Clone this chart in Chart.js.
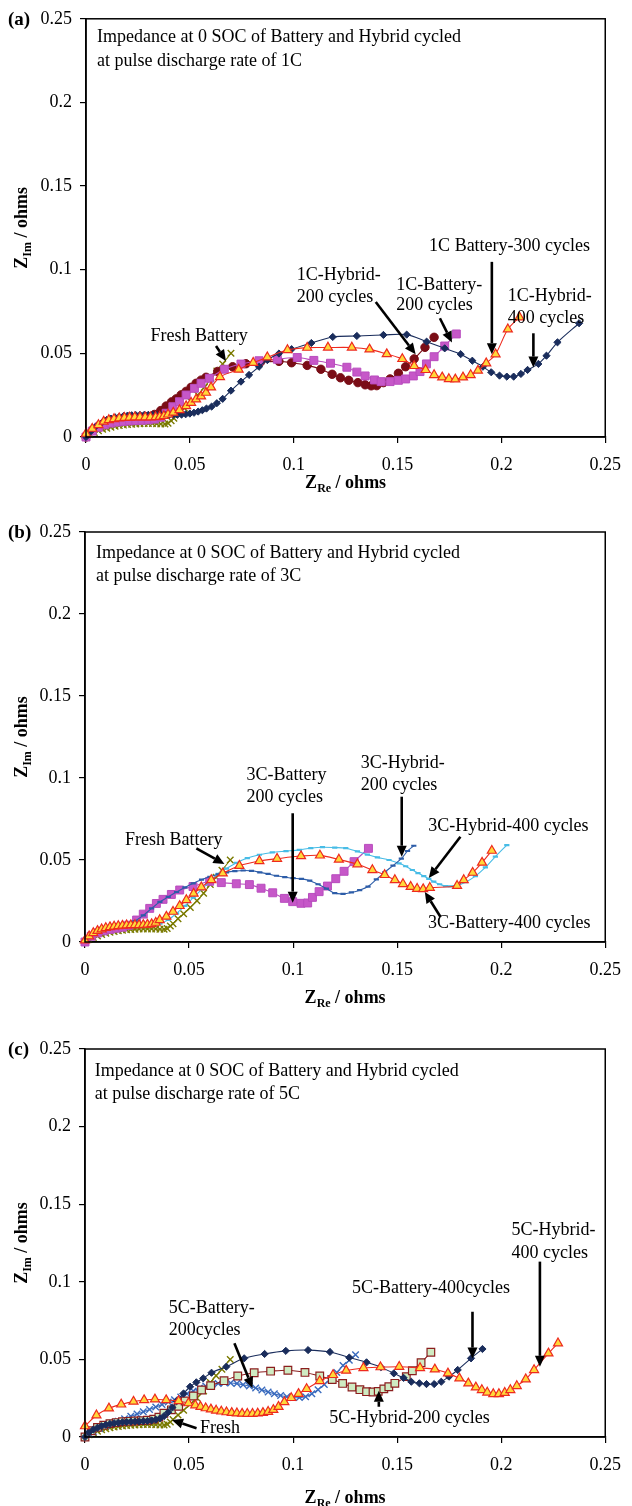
<!DOCTYPE html>
<html>
<head>
<meta charset="utf-8">
<script src="https://cdn.jsdelivr.net/npm/chart.js@4.4.1/dist/chart.umd.min.js"></script>
<style>
  html, body { margin: 0; padding: 0; background: #fff; }
  #page { position: relative; width: 632px; height: 1506px; overflow: hidden; }
  .panel { position: absolute; left: 0; width: 632px; }
  canvas { display: block; }
</style>
</head>
<body>
<div id="page">
  <div class="panel" style="top:0px;height:510px"><canvas id="chartA" width="632" height="510"></canvas></div>
  <div class="panel" style="top:510px;height:502px"><canvas id="chartB" width="632" height="502"></canvas></div>
  <div class="panel" style="top:1012px;height:494px"><canvas id="chartC" width="632" height="494"></canvas></div>
</div>
<script>
// ---------- axis ticks (shared by all three plots) ----------
const axisTicks = [0, 0.05, 0.1, 0.15, 0.2, 0.25];
const axisTickLabels = ['0', '0.05', '0.1', '0.15', '0.2', '0.25'];

// ---------- Nyquist data, [Z_Re, Z_Im] in ohms ----------
const freshBattery = [
  [0,0],[0.002,0.0015],[0.004,0.0027],[0.006,0.0037],[0.008,0.0046],[0.010,0.0053],[0.012,0.0059],
  [0.014,0.0064],[0.016,0.0068],[0.018,0.0071],[0.020,0.0074],[0.022,0.0076],[0.024,0.0078],[0.026,0.0079],
  [0.028,0.008],[0.030,0.008],[0.032,0.008],[0.034,0.0079],[0.036,0.0078],[0.038,0.0078],[0.0395,0.0082],
  [0.041,0.0097],[0.0423,0.0112],[0.0447,0.0142],[0.0474,0.0172],[0.0506,0.0211],[0.0538,0.0251],
  [0.057,0.0297],[0.0602,0.0351],[0.063,0.0395],[0.0658,0.0437],[0.0698,0.05]
];

// 1C pulse discharge
const hybrid200_1C = [
  [0,0],[0.003,0.004],[0.006,0.0066],[0.009,0.0083],[0.012,0.0094],[0.015,0.0101],[0.018,0.0106],
  [0.021,0.011],[0.024,0.0113],[0.027,0.0117],[0.030,0.0123],[0.033,0.0135],[0.036,0.0158],[0.0386,0.0185],
  [0.0412,0.021],[0.0434,0.0228],[0.0458,0.0252],[0.0482,0.0273],[0.0506,0.0297],[0.053,0.0321],
  [0.0554,0.034],[0.0578,0.0357],[0.0634,0.0392],[0.0706,0.042],[0.077,0.0438],[0.084,0.0448],
  [0.0929,0.0452],[0.099,0.0444],[0.1065,0.0428],[0.1131,0.0405],[0.1185,0.0375],[0.1225,0.0354],
  [0.1265,0.0339],[0.1309,0.0325],[0.1344,0.0312],[0.1373,0.0306],[0.14,0.0307],[0.1432,0.0325],
  [0.1464,0.0347],[0.1504,0.0381],[0.1539,0.042],[0.158,0.0467],[0.1632,0.0536],[0.1676,0.0596]
];
const battery200_1C = [
  [0,0],[0.003,0.0035],[0.006,0.0058],[0.009,0.0073],[0.012,0.0083],[0.015,0.0089],[0.018,0.0093],
  [0.021,0.0096],[0.024,0.0098],[0.027,0.01],[0.030,0.0102],[0.033,0.0107],[0.036,0.0118],[0.0386,0.0142],
  [0.0418,0.0181],[0.045,0.0211],[0.0482,0.0251],[0.0522,0.0291],[0.0554,0.0321],[0.0594,0.0351],
  [0.0666,0.0405],[0.0746,0.0436],[0.0833,0.0456],[0.0921,0.0465],[0.1017,0.0475],[0.1097,0.0458],
  [0.1177,0.0441],[0.1256,0.0417],[0.1304,0.0388],[0.1344,0.0365],[0.1389,0.0341],[0.1421,0.0331],
  [0.1464,0.0331],[0.1504,0.0339],[0.1539,0.0347],[0.1576,0.0365],[0.1608,0.0391],[0.1639,0.0437],
  [0.1676,0.048],[0.1727,0.0544],[0.1783,0.0616]
];
const battery300_1C = [
  [0,0.002],[0.003,0.005],[0.006,0.0072],[0.0085,0.0092],[0.011,0.0102],[0.0135,0.0108],[0.016,0.0112],
  [0.0185,0.0115],[0.021,0.0117],[0.0235,0.0118],[0.026,0.0118],[0.0285,0.0118],[0.031,0.0118],
  [0.0335,0.0119],[0.0355,0.0121],[0.0375,0.0126],[0.0395,0.0135],[0.042,0.0146],[0.045,0.0161],
  [0.0482,0.0185],[0.0506,0.0205],[0.053,0.0225],[0.0554,0.0243],[0.0578,0.0265],[0.0602,0.0297],
  [0.0645,0.0359],[0.0735,0.0403],[0.0805,0.0444],[0.0873,0.0477],[0.097,0.052],[0.1065,0.0534],
  [0.1165,0.0535],[0.128,0.0535],[0.1365,0.0524],[0.1448,0.0496],[0.1523,0.0467],[0.158,0.0425],
  [0.1635,0.0401],[0.1676,0.0371],[0.1715,0.0357],[0.1747,0.0347],[0.1778,0.0345],[0.1815,0.0357],
  [0.1852,0.0371],[0.1887,0.0397],[0.1927,0.0441],[0.1972,0.0495],[0.2031,0.0644],[0.2087,0.0716]
];
const hybrid400_1C = [
  [0,0],[0.002,0.003],[0.004,0.0055],[0.006,0.0075],[0.008,0.009],[0.010,0.0102],[0.012,0.011],
  [0.014,0.0117],[0.016,0.0121],[0.018,0.0125],[0.020,0.0128],[0.022,0.013],[0.024,0.0131],[0.026,0.0132],
  [0.028,0.0132],[0.030,0.0132],[0.032,0.0132],[0.034,0.0132],[0.036,0.0132],[0.038,0.0132],[0.040,0.0132],
  [0.042,0.0132],[0.044,0.0133],[0.046,0.0134],[0.048,0.0136],[0.050,0.014],[0.052,0.0145],[0.054,0.0152],
  [0.056,0.016],[0.058,0.017],[0.0605,0.0182],[0.063,0.0202],[0.0658,0.0228],[0.0698,0.0277],
  [0.0746,0.0331],[0.0785,0.0371],[0.0833,0.042],[0.0873,0.046],[0.0929,0.0499],[0.099,0.0525],
  [0.1085,0.0562],[0.1188,0.0598],[0.1304,0.0604],[0.1432,0.061],[0.1544,0.0612],[0.164,0.057],
  [0.1727,0.053],[0.1804,0.0495],[0.186,0.0456],[0.1911,0.042],[0.1951,0.0387],[0.1991,0.0367],
  [0.2026,0.0361],[0.2059,0.0361],[0.2094,0.0377],[0.2126,0.0401],[0.2178,0.0437],[0.2217,0.0486],
  [0.227,0.0566],[0.2374,0.068]
];

// 3C pulse discharge
const battery200_3C = [
  [0,0],[0.003,0.0035],[0.006,0.0055],[0.009,0.0068],[0.012,0.0077],[0.015,0.0084],[0.018,0.009],
  [0.021,0.0102],[0.0248,0.0134],[0.028,0.017],[0.0311,0.0205],[0.0343,0.0235],[0.0375,0.026],
  [0.0415,0.029],[0.0455,0.0317],[0.0519,0.0338],[0.0599,0.037],[0.0655,0.0362],[0.0727,0.0355],
  [0.079,0.035],[0.0846,0.0328],[0.0902,0.03],[0.0958,0.0266],[0.0998,0.0246],[0.1038,0.0236],
  [0.107,0.0238],[0.1093,0.0272],[0.1125,0.0307],[0.1165,0.0341],[0.1205,0.0386],[0.1245,0.0431],
  [0.1293,0.049],[0.1362,0.0571]
];
const hybrid200_3C = [
  [0,0],[0.004,0.0045],[0.008,0.0068],[0.012,0.0085],[0.016,0.0097],[0.020,0.0108],[0.024,0.0128],
  [0.028,0.0162],[0.032,0.0205],[0.036,0.0245],[0.040,0.0275],[0.044,0.0305],[0.048,0.0333],
  [0.052,0.0358],[0.056,0.038],[0.060,0.0398],[0.064,0.0413],[0.068,0.0425],[0.072,0.0432],
  [0.076,0.0436],[0.080,0.0434],[0.084,0.0425],[0.088,0.0415],[0.092,0.0404],[0.096,0.0396],
  [0.100,0.0389],[0.104,0.0385],[0.108,0.0374],[0.112,0.0352],[0.116,0.0326],[0.120,0.0298],
  [0.124,0.0294],[0.128,0.0302],[0.132,0.0316],[0.136,0.0338],[0.140,0.0382],[0.144,0.0425],
  [0.148,0.0466],[0.152,0.0508],[0.155,0.0555],[0.158,0.0587]
];
const battery400_3C = [
  [0,0.001],[0.002,0.0035],[0.004,0.0055],[0.006,0.0068],[0.008,0.0078],[0.010,0.0086],[0.012,0.0091],
  [0.014,0.0095],[0.016,0.0098],[0.018,0.01],[0.020,0.0102],[0.022,0.0103],[0.024,0.0104],[0.026,0.0104],
  [0.028,0.0105],[0.030,0.0106],[0.032,0.0109],[0.034,0.0118],[0.0359,0.0134],[0.0391,0.0155],
  [0.0423,0.0185],[0.0455,0.022],[0.0487,0.0256],[0.0522,0.0295],[0.0559,0.0334],[0.0607,0.0378],
  [0.0662,0.0419],[0.0742,0.0465],[0.0838,0.0494],[0.0923,0.0508],[0.1038,0.0524],[0.1129,0.0528],
  [0.122,0.0503],[0.1309,0.0474],[0.1381,0.0439],[0.144,0.0409],[0.1489,0.0378],[0.1528,0.0354],
  [0.1565,0.0337],[0.1596,0.0325],[0.1625,0.0323],[0.1657,0.0331],[0.1788,0.0343],[0.182,0.0378],
  [0.1863,0.0423],[0.1908,0.0484],[0.1955,0.0557]
];
const hybrid400_3C = [
  [0,0],[0.004,0.0045],[0.008,0.0068],[0.012,0.0082],[0.016,0.009],[0.020,0.0095],[0.024,0.0097],
  [0.028,0.0098],[0.032,0.0101],[0.036,0.0112],[0.040,0.0135],[0.044,0.0175],[0.048,0.022],[0.052,0.027],
  [0.056,0.032],[0.060,0.037],[0.064,0.0415],[0.068,0.0448],[0.0727,0.0482],[0.078,0.0512],
  [0.0838,0.0532],[0.09,0.0546],[0.0966,0.0554],[0.103,0.0562],[0.1085,0.0572],[0.1141,0.0578],
  [0.12,0.0576],[0.1253,0.0572],[0.1309,0.0552],[0.1357,0.0533],[0.1405,0.0516],[0.1461,0.05],
  [0.1509,0.048],[0.1541,0.0462],[0.1573,0.0439],[0.16,0.042],[0.1628,0.0402],[0.1652,0.0385],
  [0.1676,0.0368],[0.1704,0.0352],[0.1732,0.0341],[0.1756,0.0339],[0.178,0.0341],[0.1828,0.0365],
  [0.1876,0.0402],[0.1924,0.0455],[0.1972,0.052],[0.2027,0.0591]
];

// 5C pulse discharge
const battery200_5C = [
  [0,0],[0.002,0.002],[0.004,0.0035],[0.007,0.0055],[0.010,0.0072],[0.013,0.0088],[0.016,0.0102],
  [0.019,0.0117],[0.022,0.0133],[0.025,0.0148],[0.028,0.0162],[0.031,0.0177],[0.034,0.0193],[0.037,0.021],
  [0.040,0.0225],[0.043,0.024],[0.046,0.0258],[0.049,0.0278],[0.052,0.0297],[0.055,0.0315],[0.058,0.0328],
  [0.061,0.0338],[0.064,0.0345],[0.067,0.0349],[0.070,0.0348],[0.073,0.0344],[0.076,0.0337],[0.079,0.0328],
  [0.082,0.0316],[0.085,0.0303],[0.088,0.029],[0.091,0.0278],[0.094,0.0268],[0.097,0.0259],[0.100,0.0254],
  [0.103,0.0254],[0.106,0.026],[0.109,0.0278],[0.112,0.0305],[0.115,0.0338],[0.118,0.0375],[0.121,0.0415],
  [0.124,0.046],[0.127,0.0495],[0.130,0.053]
];
const hybrid200_5C = [
  [0,0],[0.003,0.004],[0.006,0.0062],[0.009,0.0076],[0.012,0.0086],[0.015,0.0093],[0.018,0.0098],
  [0.021,0.0101],[0.024,0.0103],[0.027,0.0105],[0.030,0.0108],[0.033,0.0115],[0.0355,0.0128],
  [0.0379,0.0153],[0.0415,0.0175],[0.045,0.0198],[0.0481,0.0232],[0.0521,0.0264],[0.056,0.0303],
  [0.0604,0.0331],[0.0668,0.0363],[0.0734,0.0393],[0.0813,0.0414],[0.0892,0.0424],[0.0975,0.043],
  [0.1057,0.0416],[0.1128,0.0393],[0.1188,0.037],[0.1238,0.0345],[0.1283,0.0322],[0.1321,0.0305],
  [0.1353,0.0292],[0.1384,0.029],[0.1409,0.0294],[0.1436,0.031],[0.146,0.0324],[0.1489,0.0346],
  [0.1544,0.0389],[0.1573,0.0427],[0.1615,0.0479],[0.1662,0.0546]
];
const battery400_5C = [
  [0,0],[0.002,0.003],[0.004,0.0048],[0.006,0.006],[0.008,0.007],[0.010,0.0078],[0.012,0.0084],
  [0.014,0.0089],[0.016,0.0092],[0.018,0.0095],[0.020,0.0097],[0.022,0.0099],[0.024,0.01],[0.026,0.0101],
  [0.028,0.0102],[0.030,0.0104],[0.032,0.0107],[0.034,0.0112],[0.036,0.012],[0.038,0.0135],[0.040,0.016],
  [0.042,0.019],[0.044,0.023],[0.0473,0.028],[0.0505,0.0324],[0.0535,0.0352],[0.0568,0.0378],
  [0.0608,0.0414],[0.0679,0.0453],[0.0765,0.0507],[0.0863,0.0535],[0.0965,0.0555],[0.1072,0.056],
  [0.1177,0.0548],[0.127,0.0512],[0.1353,0.0481],[0.1422,0.045],[0.1484,0.041],[0.1531,0.0381],
  [0.1568,0.0356],[0.1607,0.0346],[0.1641,0.0341],[0.1678,0.0341],[0.1712,0.0356],[0.1749,0.0389],
  [0.1791,0.0432],[0.1855,0.0507],[0.191,0.0567]
];
const hybrid400_5C = [
  [0,0.007],[0.0055,0.014],[0.0115,0.0185],[0.0174,0.021],[0.0233,0.0228],[0.0284,0.0238],[0.0336,0.0243],
  [0.039,0.0238],[0.045,0.0232],[0.0497,0.0218],[0.053,0.0205],[0.0555,0.0195],[0.058,0.0186],
  [0.0605,0.0178],[0.063,0.0171],[0.0655,0.0165],[0.068,0.016],[0.0705,0.0156],[0.073,0.0153],
  [0.0755,0.0151],[0.078,0.015],[0.0805,0.015],[0.083,0.0152],[0.0855,0.0156],[0.088,0.0163],
  [0.0905,0.0175],[0.093,0.0195],[0.0958,0.0225],[0.0991,0.0252],[0.1026,0.0278],[0.1065,0.031],
  [0.1128,0.0361],[0.1192,0.040],[0.1255,0.0428],[0.1338,0.0445],[0.142,0.045],[0.151,0.0453],
  [0.161,0.0445],[0.1681,0.0436],[0.1744,0.041],[0.1799,0.0378],[0.1842,0.0346],[0.1878,0.032],
  [0.1907,0.0303],[0.1933,0.0287],[0.1962,0.0277],[0.1989,0.0277],[0.2017,0.0285],[0.2044,0.0303],
  [0.2075,0.0329],[0.2118,0.0372],[0.2158,0.0432],[0.2227,0.0539],[0.2273,0.0604]
];

// ---------- text ----------
const titleLine1 = 'Impedance at 0 SOC of Battery and Hybrid cycled';
const titleLines = {
  a: [titleLine1, 'at pulse discharge rate of 1C'],
  b: [titleLine1, 'at pulse discharge rate of 3C'],
  c: [titleLine1, 'at pulse discharge rate of 5C']
};

// ---------- series styles ----------
const SERIF = '"Liberation Serif", "Times New Roman", Times, serif';
const styles = {
  navy:    { color: '#1A2D5C', fill: '#1A2D5C', point: 'rectRot',  r: 3.6, pbw: 1 },
  maroon:  { color: '#7A0D16', fill: '#7A0D16', point: 'circle',   r: 4.2, pbw: 1 },
  magenta: { color: '#B84CBE', fill: '#C657C8', point: 'rect',     r: 5.6, pbw: 1 },
  redTri:  { color: '#EE2A1E', fill: '#FFD83A', point: 'triangle', r: 5.2, pbw: 1.2 },
  olive:   { color: '#7A7A00', fill: '#7A7A00', point: 'crossRot', r: 4.6, pbw: 1.4 },
  blueDash:{ color: '#2D5DA8', fill: '#2D5DA8', point: 'line',     r: 2.6, pbw: 2.2 },
  cyanDash:{ color: '#47BCE6', fill: '#47BCE6', point: 'line',     r: 2.6, pbw: 2.2 },
  blueX:   { color: '#3A6BBE', fill: '#3A6BBE', point: 'crossRot', r: 4.6, pbw: 1.4 },
  brownSq: { color: '#8B1E1E', fill: '#CFEBC2', point: 'rect',     r: 5.4, pbw: 1.2 }
};

function series(label, pairs, st) {
  return {
    label,
    data: pairs.map(([x, y]) => ({ x, y })),
    showLine: true,
    borderColor: st.color,
    borderWidth: 1.1,
    backgroundColor: st.fill,
    pointStyle: st.point,
    pointRadius: st.r,
    pointBorderColor: st.color,
    pointBackgroundColor: st.fill,
    pointBorderWidth: st.pbw,
    tension: 0.3,
    clip: 10
  };
}

// ---------- panel layouts (pixel frame of each plot box inside its canvas) ----------
const panels = [
  {
    canvas: 'chartA', width: 632, height: 510, letter: '(a)',
    area: { left: 86, right: 608, top: 17, bottom: 437 },
    xTitleY: 482,
    datasets: [
      series('1C Battery-300 cycles', battery300_1C, styles.redTri),
      series('1C-Hybrid-400 cycles', hybrid400_1C, styles.navy),
      series('1C-Battery-200 cycles', battery200_1C, styles.magenta),
      series('1C-Hybrid-200 cycles', hybrid200_1C, styles.maroon),
      series('Fresh Battery', freshBattery, styles.olive)
    ],
    notes: [
      { lines: titleLines.a, x: 0.0053, y: [0.2392, 0.2249] },
      { lines: ['Fresh Battery'], x: 0.031, y: [0.0604], arrow: [0.0626, 0.0544, 0.0674, 0.0455] },
      { lines: ['1C-Hybrid-', '200 cycles'], x: 0.1015, y: [0.0969, 0.0837], arrow: [0.1395, 0.0807, 0.1587, 0.0495] },
      { lines: ['1C-Battery-', '200 cycles'], x: 0.1494, y: [0.0909, 0.0785], arrow: [0.1704, 0.071, 0.1762, 0.0565] },
      { lines: ['1C Battery-300 cycles'], x: 0.1652, y: [0.1138], arrow: [0.1954, 0.1047, 0.1954, 0.0495] },
      { lines: ['1C-Hybrid-', '400 cycles'], x: 0.2031, y: [0.0839, 0.071], arrow: [0.2154, 0.062, 0.2154, 0.0415] }
    ]
  },
  {
    canvas: 'chartB', width: 632, height: 502, letter: '(b)',
    area: { left: 85, right: 607, top: 22, bottom: 432 },
    xTitleY: 487,
    datasets: [
      series('3C-Battery-400 cycles', battery400_3C, styles.redTri),
      series('3C-Hybrid-200 cycles', hybrid200_3C, styles.blueDash),
      series('3C-Hybrid-400 cycles', hybrid400_3C, styles.cyanDash),
      series('3C-Battery 200 cycles', battery200_3C, styles.magenta),
      series('Fresh Battery', freshBattery, styles.olive)
    ],
    notes: [
      { lines: titleLines.b, x: 0.0053, y: [0.2372, 0.2232] },
      { lines: ['Fresh Battery'], x: 0.0192, y: [0.0622], arrow: [0.0535, 0.0571, 0.067, 0.0475] },
      { lines: ['3C-Battery', '200 cycles'], x: 0.0776, y: [0.1018, 0.0884], arrow: [0.0998, 0.0785, 0.0998, 0.024] },
      { lines: ['3C-Hybrid-', '200 cycles'], x: 0.1325, y: [0.1091, 0.0957], arrow: [0.1522, 0.0886, 0.1522, 0.052] },
      { lines: ['3C-Hybrid-400 cycles'], x: 0.1649, y: [0.0703], arrow: [0.1804, 0.0642, 0.1652, 0.039] },
      { lines: ['3C-Battery-400 cycles'], x: 0.1648, y: [0.0116], arrow: [0.1708, 0.0154, 0.1633, 0.0305] }
    ]
  },
  {
    canvas: 'chartC', width: 632, height: 494, letter: '(c)',
    area: { left: 85, right: 613, top: 37, bottom: 425 },
    xTitleY: 485,
    datasets: [
      series('5C-Hybrid-400 cycles', hybrid400_5C, styles.redTri),
      series('5C-Battery-400cycles', battery400_5C, styles.navy),
      series('5C-Hybrid-200 cycles', hybrid200_5C, styles.brownSq),
      series('5C-Battery-200cycles', battery200_5C, styles.blueX),
      series('Fresh', freshBattery, styles.olive)
    ],
    notes: [
      { lines: titleLines.c, x: 0.0047, y: [0.2358, 0.221] },
      { lines: ['5C-Battery-', '200cycles'], x: 0.0402, y: [0.0831, 0.0689], arrow: [0.0718, 0.0604, 0.0805, 0.0316] },
      { lines: ['Fresh'], x: 0.0553, y: [0.0058], arrow: [0.0536, 0.0056, 0.0418, 0.011] },
      { lines: ['5C-Hybrid-200 cycles'], x: 0.1174, y: [0.0122], arrow: [0.1412, 0.0195, 0.1412, 0.0298] },
      { lines: ['5C-Battery-400cycles'], x: 0.1283, y: [0.096], arrow: [0.1862, 0.0807, 0.1862, 0.0505] },
      { lines: ['5C-Hybrid-', '400 cycles'], x: 0.205, y: [0.1334, 0.1186], arrow: [0.2186, 0.113, 0.2186, 0.0452] }
    ]
  }
];

// ---------- drawing helpers ----------
function drawArrow(ctx, x1, y1, x2, y2) {
  const ang = Math.atan2(y2 - y1, x2 - x1);
  const head = 11, half = 5;
  const bx = x2 - head * Math.cos(ang), by = y2 - head * Math.sin(ang);
  ctx.save();
  ctx.strokeStyle = '#000';
  ctx.fillStyle = '#000';
  ctx.lineWidth = 2.6;
  ctx.beginPath();
  ctx.moveTo(x1, y1);
  ctx.lineTo(bx, by);
  ctx.stroke();
  ctx.beginPath();
  ctx.moveTo(x2, y2);
  ctx.lineTo(bx + half * Math.sin(ang), by - half * Math.cos(ang));
  ctx.lineTo(bx - half * Math.sin(ang), by + half * Math.cos(ang));
  ctx.closePath();
  ctx.fill();
  ctx.restore();
}

// "Z" with a subscript, followed by " / ohms"
function drawSubscriptTitle(ctx, cx, baseline, main, sub, rest) {
  const big = 'bold 18px ' + SERIF, small = 'bold 12px ' + SERIF;
  ctx.font = big; const w1 = ctx.measureText(main).width; const w3 = ctx.measureText(rest).width;
  ctx.font = small; const w2 = ctx.measureText(sub).width;
  let x = cx - (w1 + w2 + w3) / 2;
  ctx.textAlign = 'left';
  ctx.textBaseline = 'alphabetic';
  ctx.fillStyle = '#000';
  ctx.font = big; ctx.fillText(main, x, baseline); x += w1;
  ctx.font = small; ctx.fillText(sub, x, baseline + 4); x += w2;
  ctx.font = big; ctx.fillText(rest, x, baseline);
}

function decorPlugin(panel) {
  return {
    id: 'decor',
    beforeDraw(chart) {
      const c = chart.ctx;
      c.save();
      c.fillStyle = '#fff';
      c.fillRect(0, 0, chart.width, chart.height);
      c.restore();
    },
    afterDraw(chart) {
      const { ctx, chartArea: a } = chart;
      const xs = chart.scales.x, ys = chart.scales.y;
      ctx.save();
      // plot frame
      ctx.strokeStyle = '#000';
      ctx.lineWidth = 1.5;
      ctx.strokeRect(a.left, a.top, a.right - a.left, a.bottom - a.top);
      // panel letter
      ctx.fillStyle = '#000';
      ctx.font = 'bold 19px ' + SERIF;
      ctx.textAlign = 'left';
      ctx.textBaseline = 'middle';
      ctx.fillText(panel.letter, 8, a.top + 1);
      // caption text and arrows
      ctx.font = '18px ' + SERIF;
      panel.notes.forEach(n => {
        n.lines.forEach((t, i) => {
          ctx.fillText(t, xs.getPixelForValue(n.x), ys.getPixelForValue(n.y[i]));
        });
        if (n.arrow) {
          const [ax1, ay1, ax2, ay2] = n.arrow;
          drawArrow(ctx, xs.getPixelForValue(ax1), ys.getPixelForValue(ay1),
                         xs.getPixelForValue(ax2), ys.getPixelForValue(ay2));
        }
      });
      // axis titles
      drawSubscriptTitle(ctx, (a.left + a.right) / 2, panel.xTitleY + 6, 'Z', 'Re', ' / ohms');
      ctx.save();
      ctx.translate(21, (a.top + a.bottom) / 2);
      ctx.rotate(-Math.PI / 2);
      drawSubscriptTitle(ctx, 0, 6, 'Z', 'Im', ' / ohms');
      ctx.restore();
      ctx.restore();
    }
  };
}

function axisOptions(fitFn) {
  return {
    type: 'linear',
    min: 0,
    max: 0.25,
    afterBuildTicks: s => { s.ticks = axisTicks.map(v => ({ value: v })); },
    afterFit: fitFn,
    grid: { drawOnChartArea: false, drawTicks: true, tickLength: 6, color: '#000', lineWidth: 1.2 },
    border: { display: true, color: '#000', width: 1.5 },
    ticks: {
      callback: (v, i) => axisTickLabels[i],
      font: { family: SERIF, size: 18 },
      color: '#000',
      padding: 8,
      maxRotation: 0,
      autoSkip: false
    }
  };
}

panels.forEach(p => {
  const xOpts = axisOptions(s => { s.height = p.height - p.area.bottom; });
  xOpts.ticks.padding = 11;
  const yOpts = axisOptions(s => { s.width = p.area.left; });
  new Chart(document.getElementById(p.canvas), {
    type: 'scatter',
    data: { datasets: p.datasets },
    options: {
      responsive: false,
      animation: false,
      devicePixelRatio: 1,
      layout: { padding: { left: 0, top: p.area.top, right: p.width - p.area.right, bottom: 0 } },
      plugins: { legend: { display: false }, tooltip: { enabled: false } },
      scales: { x: xOpts, y: yOpts }
    },
    plugins: [decorPlugin(p)]
  });
});
</script>
</body>
</html>
